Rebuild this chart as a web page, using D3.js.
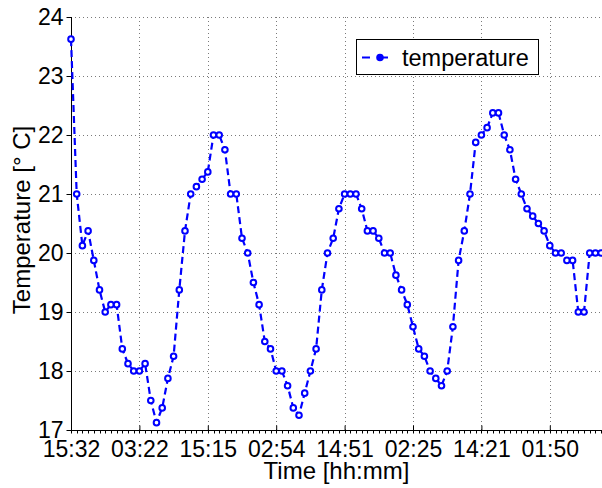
<!DOCTYPE html>
<html>
<head>
<meta charset="utf-8">
<script src="https://cdn.jsdelivr.net/npm/d3@7"></script>
<style>
  html, body { margin: 0; padding: 0; background: #fff; }
  svg { display: block; font-family: "Liberation Sans", Arial, Helvetica, sans-serif; }
</style>
</head>
<body>
<svg id="chart" width="602" height="488"></svg>
<script>
// Hourly temperature samples (°C)
const temperature = [
  23.625, 21.0, 20.125, 20.375, 19.875, 19.375, 19.0, 19.125, 19.125, 18.375,
  18.125, 18.0, 18.0, 18.125, 17.5, 17.125, 17.375, 17.875, 18.25, 19.375,
  20.375, 21.0, 21.125, 21.25, 21.375, 22.0, 22.0, 21.75, 21.0, 21.0,
  20.25, 20.0, 19.5, 19.125, 18.5, 18.375, 18.0, 18.0, 17.75, 17.375,
  17.25, 17.625, 18.0, 18.375, 19.375, 20.0, 20.25, 20.75, 21.0, 21.0,
  21.0, 20.75, 20.375, 20.375, 20.25, 20.0, 20.0, 19.625, 19.375, 19.125,
  18.75, 18.375, 18.25, 18.0, 17.875, 17.75, 18.0, 18.75, 19.875, 20.375,
  21.0, 21.875, 22.0, 22.125, 22.375, 22.375, 22.0, 21.75, 21.25, 21.0,
  20.75, 20.625, 20.5, 20.375, 20.125, 20.0, 20.0, 19.875, 19.875, 19.0,
  19.0, 20.0, 20.0, 20.0
];
const sampleIndex = temperature.map((_, i) => i);

// Time axis: a labelled tick every 12 samples
const timeTickIndex = [0, 12, 24, 36, 48, 60, 72, 84];
const timeTickLabels = ["15:32", "03:22", "15:15", "02:54", "14:51", "02:25", "14:21", "01:50"];

const tempTicks = [17, 18, 19, 20, 21, 22, 23, 24];

(function draw() {
  const svg = d3.select("#chart");
  const W = 602;
  const pLeft = 71, pTop = 17, pBottom = 430, pRight = 610;

  const x = d3.scaleLinear().domain([0, 93]).range([pLeft, pLeft + 93 * 5.7]);
  const y = d3.scaleLinear().domain([17, 24]).range([pBottom, pTop]);

  const blue = "#0000ff";
  const tickFont = 23;
  const titleFont = 24;

  // Dotted grid
  const grid = svg.append("g").attr("stroke", "#7a7a7a").attr("stroke-width", 1)
    .attr("stroke-dasharray", "1,3");
  tempTicks.forEach(t => {
    grid.append("line").attr("x1", pLeft).attr("x2", pRight)
      .attr("y1", Math.round(y(t)) + 0.5).attr("y2", Math.round(y(t)) + 0.5);
  });
  timeTickIndex.forEach(i => {
    if (i === 0) return;
    grid.append("line").attr("x1", Math.round(x(i)) + 0.5).attr("x2", Math.round(x(i)) + 0.5)
      .attr("y1", pTop).attr("y2", pBottom);
  });

  // Axes
  const yAxis = d3.axisLeft(y).tickValues(tempTicks).tickSize(5).tickPadding(3)
    .tickFormat(d3.format("d"));
  const gy = svg.append("g").attr("transform", `translate(${pLeft + 0.5},0)`).call(yAxis);
  gy.select(".domain").attr("d", `M0,${pTop}V${pBottom}`).attr("stroke", "#000");
  gy.selectAll("text").attr("font-size", tickFont).attr("fill", "#000")
    .attr("font-family", "Liberation Sans, Arial, sans-serif");
  gy.selectAll(".tick line").attr("stroke", "#000");

  const xAxis = d3.axisBottom(x).tickValues(timeTickIndex).tickSize(-5).tickPadding(10)
    .tickFormat((d, k) => timeTickLabels[k]);
  const gx = svg.append("g").attr("transform", `translate(0,${pBottom + 0.5})`).call(xAxis);
  gx.select(".domain").attr("d", `M${pLeft},0H${pRight}`).attr("stroke", "#000");
  gx.selectAll(".tick line").attr("stroke", "#000");
  gx.selectAll("text").attr("font-size", tickFont).attr("fill", "#000")
    .attr("font-family", "Liberation Sans, Arial, sans-serif");

  // Minor hourly ticks along the time axis
  gx.append("g").selectAll("line").data(sampleIndex).join("line")
    .attr("x1", d => Math.round(x(d)) + 0.5).attr("x2", d => Math.round(x(d)) + 0.5)
    .attr("y1", 0).attr("y2", 3).attr("stroke", "#000");

  // Axis titles
  svg.append("text").attr("x", (pLeft + W) / 2).attr("y", 479)
    .attr("text-anchor", "middle").attr("font-size", titleFont).text("Time [hh:mm]");
  svg.append("text")
    .attr("transform", `translate(30,220) rotate(-90)`)
    .attr("text-anchor", "middle").attr("font-size", titleFont).text("Temperature [° C]");

  // Series: dashed line with hollow circle markers
  const line = d3.line().x((d, i) => x(i)).y(d => y(d));
  svg.append("path").datum(temperature)
    .attr("d", line).attr("fill", "none").attr("stroke", blue)
    .attr("stroke-width", 2.2).attr("stroke-dasharray", "7,4");
  svg.append("g").selectAll("circle").data(temperature).join("circle")
    .attr("cx", (d, i) => x(i)).attr("cy", d => y(d)).attr("r", 2.8)
    .attr("fill", "#fff").attr("stroke", blue).attr("stroke-width", 2);

  // Legend
  const lg = svg.append("g");
  lg.append("rect").attr("x", 356.5).attr("y", 39.5).attr("width", 182).attr("height", 35)
    .attr("fill", "#fff").attr("stroke", "#000").attr("stroke-width", 1);
  lg.append("line").attr("x1", 362).attr("x2", 398).attr("y1", 57.5).attr("y2", 57.5)
    .attr("stroke", blue).attr("stroke-width", 2.2).attr("stroke-dasharray", "8,10");
  lg.append("circle").attr("cx", 380).attr("cy", 57.5).attr("r", 2.8)
    .attr("fill", blue).attr("stroke", blue).attr("stroke-width", 2);
  lg.append("text").attr("x", 402).attr("y", 66).attr("font-size", 23.5).text("temperature");
})();
</script>
</body>
</html>
